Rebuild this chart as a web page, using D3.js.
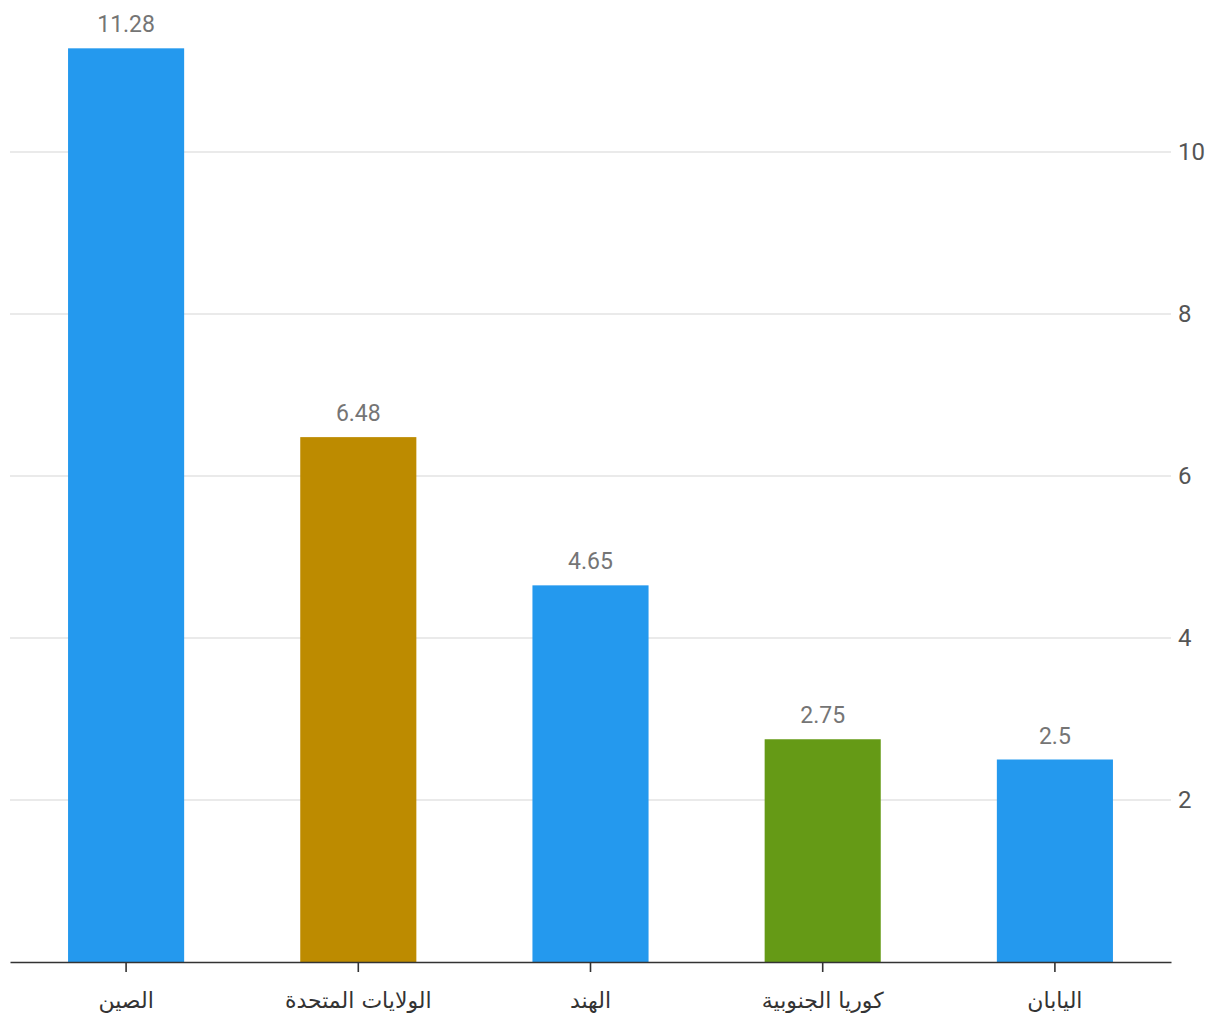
<!DOCTYPE html>
<html><head><meta charset="utf-8">
<script src="https://cdn.jsdelivr.net/npm/d3@7"></script>
<style>body{margin:0;background:#fff;} svg{display:block;font-family:Roboto,"Noto Sans","DejaVu Sans",sans-serif;}</style>
</head><body>
<svg id="c" width="1220" height="1020"></svg>
<script>
const categories = ["الصين", "الولايات المتحدة", "الهند", "كوريا الجنوبية", "اليابان"];
const values = [11.28, 6.48, 4.65, 2.75, 2.5];
const valueLabels = ["11.28", "6.48", "4.65", "2.75", "2.5"];
const barColors = ["#2499ee", "#bd8b00", "#2499ee", "#659a16", "#2499ee"];
const yTicks = [2, 4, 6, 8, 10];

const svg = d3.select("#c");
const left = 10, right = 1171, bottom = 962;
const x = d3.scaleBand().domain(categories).range([left, right]).paddingInner(0.5).paddingOuter(0.25);
const y = d3.scaleLinear().domain([0, 10]).range([bottom, 152]);

// gridlines + right axis
const ya = svg.append("g").attr("transform", `translate(${right},0)`)
  .call(d3.axisRight(y).tickValues(yTicks).tickSize(0).tickPadding(7));
ya.select(".domain").remove();
ya.selectAll("text").attr("font-size", 24).attr("fill", "#555").attr("font-family", "Roboto,sans-serif");
svg.append("g").selectAll("line").data(yTicks).join("line")
  .attr("x1", left).attr("x2", right).attr("y1", d => y(d)).attr("y2", d => y(d))
  .attr("stroke", "#e3e3e3").attr("stroke-width", 1.5);

// bars
svg.append("g").selectAll("rect").data(values).join("rect")
  .attr("x", (d, i) => x(categories[i])).attr("width", x.bandwidth())
  .attr("y", d => y(d)).attr("height", d => bottom - y(d))
  .attr("fill", (d, i) => barColors[i]);

// value labels
svg.append("g").selectAll("text").data(values).join("text")
  .attr("x", (d, i) => x(categories[i]) + x.bandwidth() / 2)
  .attr("y", d => y(d) - 16)
  .attr("text-anchor", "middle").attr("font-size", 23).attr("fill", "#757575")
  .text((d, i) => valueLabels[i]);

// x axis
const xa = svg.append("g").attr("transform", `translate(0,${bottom})`)
  .call(d3.axisBottom(x).tickSizeInner(10).tickSizeOuter(0).tickPadding(20));
xa.select(".domain").attr("stroke", "#333").attr("stroke-width", 1.6);
xa.selectAll(".tick line").attr("stroke", "#333").attr("stroke-width", 1.6);
xa.selectAll("text").attr("font-size", 22).attr("fill", "#333").attr("font-family", "\"DejaVu Sans\",\"Noto Sans\",sans-serif");
</script>
</body></html>
